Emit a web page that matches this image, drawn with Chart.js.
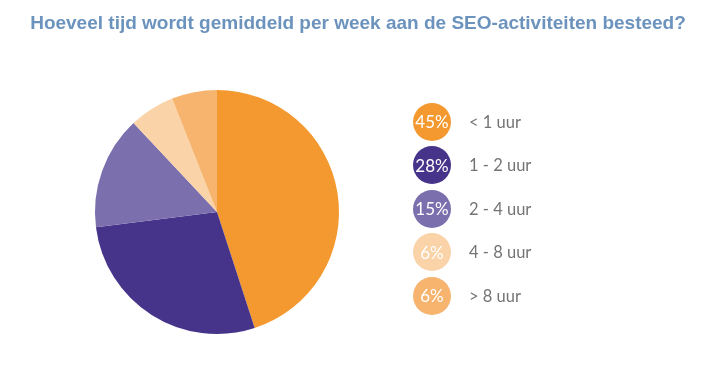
<!DOCTYPE html>
<html>
<head>
<meta charset="utf-8">
<script src="https://cdn.jsdelivr.net/npm/chart.js@4"></script>
<style>
  html, body { margin: 0; padding: 0; background: #fff; overflow: hidden; }
  #wrap { position: relative; width: 710px; height: 392px; }
  #titel {
    position: absolute; left: 6px; top: 12px; width: 704px; text-align: center;
    font: bold 19px "Liberation Sans", Arial, sans-serif; color: #6b93bd;
    white-space: nowrap;
  }
  #legenda { position: absolute; left: 413px; top: 100px; }
  .item { display: flex; align-items: center; height: 43.5px; }
  .bol {
    width: 38px; height: 38px; border-radius: 50%; color: #fff;
    font: 17px Lato, "Open Sans", sans-serif; display: flex;
    align-items: center; justify-content: center;
  }
  .tekst { margin-left: 18px; font: 16.5px Lato, "Open Sans", sans-serif; color: #747474; }
</style>
</head>
<body>
<div id="wrap">
  <canvas id="myChart" width="710" height="392"></canvas>
  <div id="titel">Hoeveel tijd wordt gemiddeld per week aan de SEO-activiteiten besteed?</div>
  <div id="legenda"></div>
</div>
<script>
// Gegevens
var categorieen = ["< 1 uur", "1 - 2 uur", "2 - 4 uur", "4 - 8 uur", "> 8 uur"];
var percentages = [45, 28, 15, 6, 6];
var kleuren = ["#f4992f", "#46348a", "#7b6fae", "#fad4a8", "#f6b46e"];

document.addEventListener("DOMContentLoaded", function () {

  // Legenda met bolletjes
  var legenda = document.getElementById("legenda");
  categorieen.forEach(function (cat, i) {
    var item = document.createElement("div");
    item.className = "item";
    var bol = document.createElement("div");
    bol.className = "bol";
    bol.style.background = kleuren[i];
    bol.textContent = percentages[i] + "%";
    var tekst = document.createElement("div");
    tekst.className = "tekst";
    tekst.textContent = cat;
    item.appendChild(bol);
    item.appendChild(tekst);
    legenda.appendChild(item);
  });

  // Taartdiagram
  var ctx = document.getElementById("myChart");
  new Chart(ctx, {
    type: "pie",
    data: {
      labels: categorieen,
      datasets: [{
        data: percentages,
        backgroundColor: kleuren,
        borderWidth: 0
      }]
    },
    options: {
      responsive: false,
      animation: false,
      layout: { padding: { left: 95, right: 371, top: 90, bottom: 58 } },
      plugins: {
        legend: { display: false },
        tooltip: { enabled: false }
      }
    }
  });
});
</script>
</body>
</html>
